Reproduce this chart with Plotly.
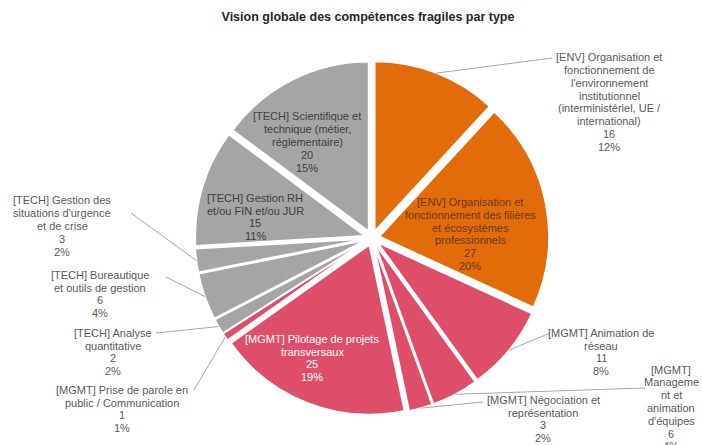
import numpy as np
import plotly.graph_objects as go

# ---------------- data ----------------
labels = [
    "[ENV] Organisation et<br>fonctionnement de<br>l'environnement<br>institutionnel<br>(interministériel, UE /<br>international)",
    "[ENV] Organisation et<br>fonctionnement des filières<br>et écosystèmes<br>professionnels",
    "[MGMT] Animation de<br>réseau",
    "[MGMT]<br>Manageme<br>nt et<br>animation<br>d'équipes",
    "[MGMT] Négociation et<br>représentation",
    "[MGMT] Pilotage de projets<br>transversaux",
    "[MGMT] Prise de parole en<br>public / Communication",
    "[TECH] Analyse<br>quantitative",
    "[TECH] Bureautique<br>et outils de gestion",
    "[TECH] Gestion des<br>situations d'urgence<br>et de crise",
    "[TECH] Gestion RH<br>et/ou FIN et/ou JUR",
    "[TECH] Scientifique et<br>technique (métier,<br>réglementaire)",
]
values = [16, 27, 11, 6, 3, 25, 1, 2, 6, 3, 15, 20]
percents = ["12%", "20%", "8%", "4%", "2%", "19%", "1%", "2%", "4%", "2%", "11%", "15%"]
groups = ["ENV", "ENV", "MGMT", "MGMT", "MGMT", "MGMT", "MGMT", "TECH", "TECH", "TECH", "TECH", "TECH"]

# ---------------- styling / layout ----------------
W, H = 702, 445
group_colors = {"ENV": "#E36C0A", "MGMT": "#DF4E68", "TECH": "#A5A5A5"}
colors = [group_colors[g] for g in groups]

CX, CY, RAD = 372, 238, 177   # pie centre and outer extent in pixels
PULL = 0.045
LH = 12.8                      # label line spacing (px)
FONT = "Liberation Sans, Arial, sans-serif"

# label placement: text-block centre (px), leader-line anchor (px) or None, text colour
label_pos = [
    (609, 102, (552, 58), "#595959"),
    (470, 234, None, "#6A3A14"),
    (601, 352, (550, 333), "#595959"),
    (671, 408, (645, 388), "#595959"),
    (543, 419, (483, 402), "#595959"),
    (312, 358, None, "#FFFFFF"),
    (122, 409, (194, 390), "#595959"),
    (113, 352, (156, 333), "#595959"),
    (100, 294, (166, 277), "#595959"),
    (62, 226, (131, 213), "#595959"),
    (255, 217, None, "#404040"),
    (307, 142, None, "#404040"),
]

fig = go.Figure()
fig.add_trace(go.Pie(
    labels=[l.replace("<br>", " ") for l in labels],
    values=values,
    sort=False,
    direction="clockwise",
    rotation=0,
    pull=[PULL] * len(values),
    marker=dict(colors=colors, line=dict(color="white", width=1.5)),
    textinfo="none",
    hoverinfo="label+value+percent",
    showlegend=False,
    domain=dict(x=[(CX - RAD) / W, (CX + RAD) / W],
                y=[1 - (CY + RAD) / H, 1 - (CY - RAD) / H]),
))

# slice mid-angles (clockwise from 12 o'clock) derived from the data
vals = np.array(values, dtype=float)
mid = (np.cumsum(vals) - vals / 2) / vals.sum() * 2 * np.pi

annotations = []
shapes = []
for i, lab in enumerate(labels):
    tx, ty, anchor, tcol = label_pos[i]
    lines = lab.split("<br>") + [str(values[i]), percents[i]]
    n = len(lines)
    for k, line in enumerate(lines):
        ly = ty + (k - (n - 1) / 2) * LH
        annotations.append(dict(
            x=tx / W, y=1 - ly / H, xref="paper", yref="paper",
            xanchor="center", yanchor="middle",
            text=line, showarrow=False,
            font=dict(size=11, color=tcol, family=FONT),
        ))
    if anchor is not None:
        px = CX + RAD * np.sin(mid[i])
        py = CY - RAD * np.cos(mid[i])
        shapes.append(dict(
            type="line", xref="paper", yref="paper",
            x0=px / W, y0=1 - py / H, x1=anchor[0] / W, y1=1 - anchor[1] / H,
            line=dict(color="#A6A6A6", width=1),
        ))

fig.update_layout(
    width=W, height=H,
    margin=dict(l=0, r=0, t=0, b=0),
    paper_bgcolor="white",
    plot_bgcolor="white",
    title=dict(text="<b>Vision globale des compétences fragiles par type</b>",
               x=368 / W, xanchor="center", y=1 - 17 / H, yanchor="middle",
               yref="container",
               font=dict(size=12.5, color="#262626", family=FONT)),
    annotations=annotations,
    shapes=shapes,
)

fig.write_html("out.html")
